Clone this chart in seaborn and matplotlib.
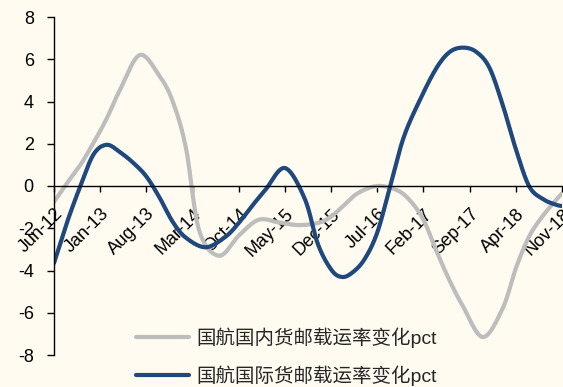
import numpy as np
import pandas as pd
import matplotlib
matplotlib.use("Agg")
import matplotlib.pyplot as plt
import seaborn as sns

# x-axis categories (one label every 7 months, counted in months after Jun-12)
tick_labels = ["Jun-12", "Jan-13", "Aug-13", "Mar-14", "Oct-14", "May-15",
               "Dec-15", "Jul-16", "Feb-17", "Sep-17", "Apr-18", "Nov-18"]
tick_months = [0, 7, 14, 21, 28, 35, 42, 49, 56, 63, 70, 77]

domestic_label = "国航国内货邮载运率变化pct"
intl_label = "国航国际货邮载运率变化pct"

# Air China domestic cargo load factor change (pct)
domestic_month = [0, 2, 4, 6, 8, 10, 13, 16, 18, 20, 22, 25, 28, 31, 34, 37, 40,
                  42, 44, 46, 49, 52, 54, 56, 58, 60, 62, 65, 68, 70, 72, 74, 76, 77]
domestic_pct = [-0.75, 0.15, 1.0, 2.05, 3.2, 4.55, 6.2, 5.2, 4.0, 1.8, -2.1, -3.3,
                -2.35, -1.6, -1.72, -1.85, -1.75, -1.45, -0.9, -0.35, 0.0, -0.2,
                -0.7, -1.6, -3.1, -4.5, -5.7, -7.15, -5.8, -3.9, -2.4, -1.45, -0.7, -0.35]

# Air China international cargo load factor change (pct)
intl_month = [0, 2, 4, 6, 8, 10, 12, 14, 16, 18, 20, 23, 26, 28, 30, 32, 35, 38, 40,
              42, 43.5, 45, 47, 49, 51, 53, 55.5, 58, 60, 62, 64, 66, 68, 70, 72,
              74, 76, 77]
intl_pct = [-3.65, -1.7, 0.0, 1.5, 1.95, 1.6, 1.1, 0.45, -0.55, -1.7, -2.45, -2.9,
            -2.4, -1.75, -0.95, -0.2, 0.85, -0.6, -2.75, -3.95, -4.3, -4.15, -3.5,
            -2.2, 0.05, 2.3, 4.1, 5.6, 6.35, 6.55, 6.35, 5.6, 3.85, 1.75, 0.0,
            -0.6, -0.88, -0.95]

BG = "#FFFBF0"
GRAY = "#BDBDBD"
BLUE = "#1F497D"


def smooth(xs, ys, steps=24):
    """Smoothed line through every point: cubic Bezier segments whose
    control points sit 1/6 of the neighbouring chord away."""
    p = np.column_stack([xs, ys]).astype(float)
    ext = np.vstack([p[0], p, p[-1]])
    t = np.linspace(0, 1, steps + 1)[1:, None]
    out = [p[:1]]
    for i in range(len(p) - 1):
        p0, p3 = ext[i + 1], ext[i + 2]
        c1 = p0 + (ext[i + 2] - ext[i]) / 6.0
        c2 = p3 - (ext[i + 3] - ext[i + 1]) / 6.0
        seg = ((1 - t) ** 3) * p0 + 3 * ((1 - t) ** 2) * t * c1 \
            + 3 * (1 - t) * t ** 2 * c2 + t ** 3 * p3
        out.append(seg)
    out = np.vstack(out)
    return out[:, 0], out[:, 1]


sns.set_theme(style="ticks", rc={
    "axes.facecolor": BG,
    "figure.facecolor": BG,
    "axes.edgecolor": "black",
    "axes.linewidth": 1.0,
    "xtick.color": "black",
    "ytick.color": "black",
    "axes.unicode_minus": False,
})
plt.rcParams["font.family"] = ["Liberation Sans", "Noto Sans CJK SC"]

fig = plt.figure(figsize=(5.63, 3.87), dpi=100, facecolor=BG)
ax = fig.add_axes([54 / 563, 32 / 387, 508 / 563, 338 / 387])

dx, dy = smooth(domestic_month, domestic_pct)
ix, iy = smooth(intl_month, intl_pct)
domestic_df = pd.DataFrame({"month": dx, "pct": dy})
intl_df = pd.DataFrame({"month": ix, "pct": iy})

sns.lineplot(data=domestic_df, x="month", y="pct", sort=False, estimator=None,
             color=GRAY, linewidth=3.0, label=domestic_label, ax=ax)
sns.lineplot(data=intl_df, x="month", y="pct", sort=False, estimator=None,
             color=BLUE, linewidth=3.0, label=intl_label, ax=ax)

ax.set_xlim(0, 77)
ax.set_ylim(-8, 8)
ax.set_yticks(range(-8, 9, 2))
ax.set_xlabel("")
ax.set_ylabel("")

ax.spines["top"].set_visible(False)
ax.spines["right"].set_visible(False)
ax.spines["bottom"].set_position(("data", 0))

ax.set_xticks(tick_months)
ax.set_xticklabels(tick_labels, rotation=45, ha="right", va="top",
                   rotation_mode="anchor")
ax.tick_params(axis="x", direction="out", length=4, width=1, pad=10, labelsize=13)
ax.tick_params(axis="y", direction="out", length=5, width=1, pad=9.5, labelsize=13)

handles, labels = ax.get_legend_handles_labels()
ax.legend(handles, labels, loc="upper left",
          bbox_to_anchor=(136 / 563, 0.155), bbox_transform=fig.transFigure,
          frameon=False, fontsize=14, handlelength=2.7, handletextpad=0.4,
          labelspacing=0.9, borderpad=0, borderaxespad=0)

fig.savefig("out.png", dpi=100, facecolor=BG)
